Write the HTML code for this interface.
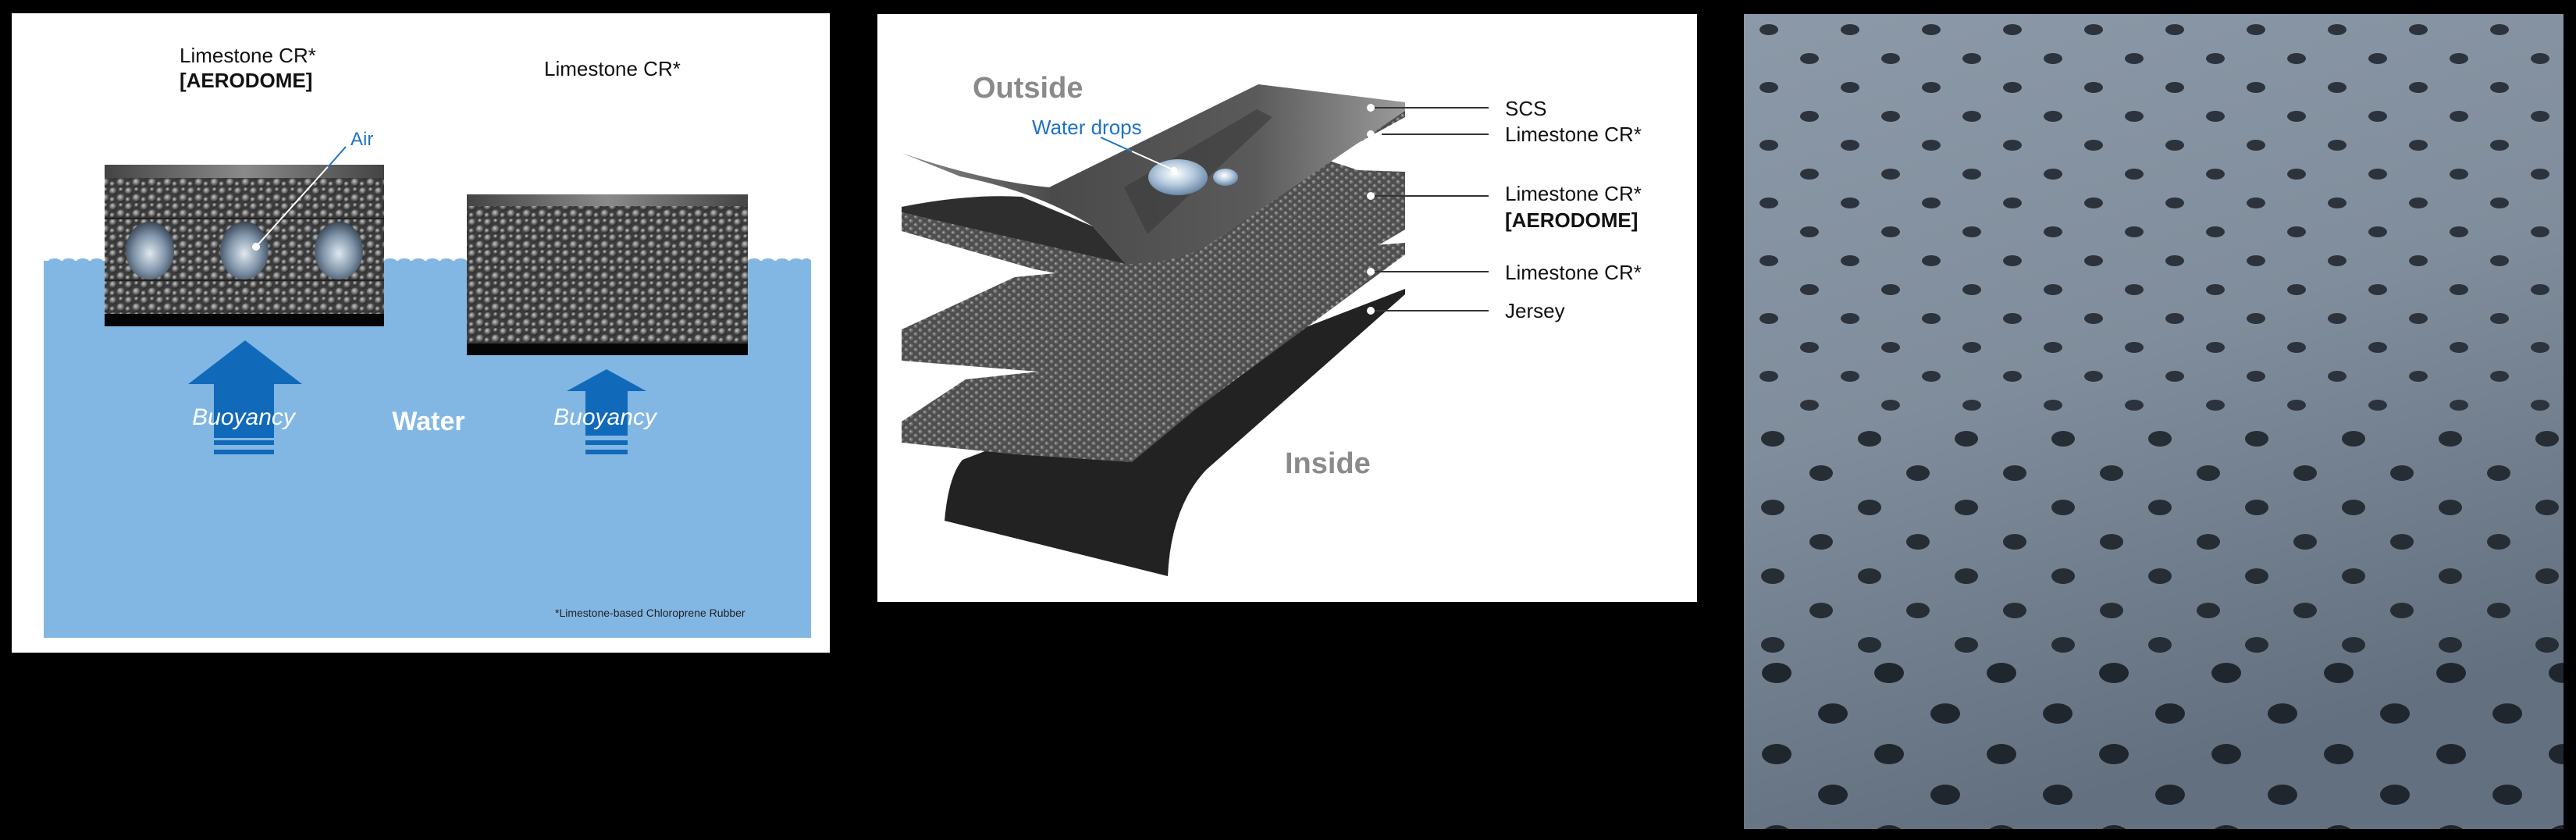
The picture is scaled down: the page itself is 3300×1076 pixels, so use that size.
<!DOCTYPE html>
<html><head><meta charset="utf-8"><style>
html,body{margin:0;padding:0;background:#000;}
body{width:3300px;height:1076px;overflow:hidden;position:relative;font-family:"Liberation Sans",sans-serif;}
svg{position:absolute;left:0;top:0;}
</style></head><body>
<svg width="3300" height="1076" viewBox="0 0 3300 1076" xmlns="http://www.w3.org/2000/svg">
<defs>
  <radialGradient id="bub" cx="40%" cy="35%" r="60%">
    <stop offset="0" stop-color="#c8c8c8"/><stop offset="0.5" stop-color="#777"/><stop offset="1" stop-color="#2a2a2a"/>
  </radialGradient>
  <pattern id="foam" width="20" height="20" patternUnits="userSpaceOnUse">
    <rect width="20" height="20" fill="#3c3c3c"/>
    <circle cx="5" cy="5" r="5" fill="url(#bub)"/>
    <circle cx="15" cy="14" r="5.5" fill="url(#bub)"/>
    <circle cx="15" cy="3" r="3" fill="url(#bub)"/>
    <circle cx="4" cy="16" r="3.5" fill="url(#bub)"/>
  </pattern>
  <pattern id="foam2" width="12" height="10" patternUnits="userSpaceOnUse">
    <rect width="12" height="10" fill="#4e4e4e"/>
    <circle cx="3" cy="3" r="2.6" fill="#727272"/>
    <circle cx="9" cy="8" r="2.6" fill="#6e6e6e"/>
    <circle cx="2.5" cy="2.5" r="1" fill="#b0b0b0"/>
    <circle cx="8.5" cy="7.5" r="1" fill="#b0b0b0"/>
  </pattern>
  <radialGradient id="air" cx="50%" cy="55%" r="55%">
    <stop offset="0" stop-color="#dfe8f0"/><stop offset="0.6" stop-color="#7f93a8"/><stop offset="1" stop-color="#3a4858"/>
  </radialGradient>
  <linearGradient id="strip" x1="0" y1="0" x2="1" y2="0">
    <stop offset="0" stop-color="#444"/><stop offset="0.5" stop-color="#8a8a8a"/><stop offset="1" stop-color="#444"/>
  </linearGradient>
  <linearGradient id="scs" x1="0" y1="0" x2="1" y2="0">
    <stop offset="0" stop-color="#8a8a8a"/><stop offset="0.3" stop-color="#4a4a4a"/><stop offset="0.7" stop-color="#5a5a5a"/><stop offset="1" stop-color="#9a9a9a"/>
  </linearGradient>
  <radialGradient id="drop" cx="45%" cy="40%" r="60%">
    <stop offset="0" stop-color="#ffffff"/><stop offset="0.5" stop-color="#b9cde0"/><stop offset="1" stop-color="#6a88a8"/>
  </radialGradient>
  <linearGradient id="photo" x1="0" y1="0" x2="0.3" y2="1">
    <stop offset="0" stop-color="#8c99a8"/><stop offset="0.5" stop-color="#808d9c"/><stop offset="1" stop-color="#63707f"/>
  </linearGradient>
  <pattern id="holesA" width="104" height="74" patternUnits="userSpaceOnUse" x="2240" y="20">
    <ellipse cx="26" cy="18" rx="12" ry="7" fill="#2c333c"/>
    <ellipse cx="78" cy="55" rx="12" ry="7" fill="#2c333c"/>
  </pattern>
  <pattern id="holesB" width="124" height="88" patternUnits="userSpaceOnUse" x="2240" y="540">
    <ellipse cx="31" cy="22" rx="15" ry="10" fill="#262d35"/>
    <ellipse cx="93" cy="66" rx="15" ry="10" fill="#262d35"/>
  </pattern>
  <pattern id="holesC" width="144" height="104" patternUnits="userSpaceOnUse" x="2240" y="836">
    <ellipse cx="36" cy="26" rx="19" ry="13" fill="#20262d"/>
    <ellipse cx="108" cy="78" rx="19" ry="13" fill="#20262d"/>
  </pattern>
</defs>

<!-- PANEL 1 -->
<rect x="15" y="17" width="1048" height="819" fill="#fff"/>
<rect x="56" y="334" width="983" height="483" fill="#82b7e4"/>
<g fill="#82b7e4">
<ellipse cx="70" cy="335" rx="8" ry="4"/><ellipse cx="88" cy="335" rx="8" ry="4"/><ellipse cx="106" cy="335" rx="8" ry="4"/><ellipse cx="124" cy="335" rx="8" ry="4"/>
<ellipse cx="500" cy="335" rx="8" ry="4"/><ellipse cx="518" cy="335" rx="8" ry="4"/><ellipse cx="536" cy="335" rx="8" ry="4"/><ellipse cx="554" cy="335" rx="8" ry="4"/><ellipse cx="572" cy="335" rx="8" ry="4"/><ellipse cx="590" cy="335" rx="8" ry="4"/>
<ellipse cx="966" cy="335" rx="8" ry="4"/><ellipse cx="984" cy="335" rx="8" ry="4"/><ellipse cx="1002" cy="335" rx="8" ry="4"/><ellipse cx="1020" cy="335" rx="8" ry="4"/><ellipse cx="1033" cy="335" rx="6" ry="4"/>
</g>
<!-- left block -->
<rect x="134" y="211" width="358" height="207" fill="url(#foam)"/>
<rect x="134" y="211" width="358" height="17" fill="url(#strip)"/>
<rect x="134" y="279" width="358" height="2" fill="#222"/>
<rect x="134" y="358" width="358" height="2" fill="#222"/>
<ellipse cx="192" cy="321" rx="31" ry="37" fill="url(#air)"/>
<ellipse cx="313" cy="321" rx="31" ry="37" fill="url(#air)"/>
<ellipse cx="434" cy="321" rx="31" ry="37" fill="url(#air)"/>
<rect x="134" y="402" width="358" height="16" fill="#050505"/>
<!-- right block -->
<rect x="598" y="249" width="360" height="206" fill="url(#foam)"/>
<rect x="598" y="249" width="360" height="15" fill="url(#strip)"/>
<rect x="598" y="440" width="360" height="15" fill="#050505"/>
<!-- Air -->
<line x1="443" y1="188" x2="328" y2="316" stroke="#fff" stroke-width="2"/>
<line x1="443" y1="188" x2="420" y2="214" stroke="#1e73c4" stroke-width="2"/>
<circle cx="328" cy="316" r="5" fill="#fff"/>
<text x="449" y="186" font-size="24" fill="#1e73c4">Air</text>
<text x="230" y="80" font-size="26" fill="#111">Limestone CR*</text>
<text x="230" y="112" font-size="26" font-weight="bold" fill="#111">[AERODOME]</text>
<text x="697" y="97" font-size="26" fill="#111">Limestone CR*</text>
<!-- arrows -->
<polygon points="314,436 387,492 351,492 351,561 274,561 274,492 241,492" fill="#116ab9"/>
<rect x="274" y="564" width="77" height="6" fill="#116ab9"/>
<rect x="274" y="576" width="77" height="6" fill="#116ab9"/>
<polygon points="777,473 828,501 804,501 804,558 750,558 750,501 726,501" fill="#116ab9"/>
<rect x="750" y="564" width="54" height="6" fill="#116ab9"/>
<rect x="750" y="576" width="54" height="6" fill="#116ab9"/>
<text x="312" y="544" font-size="30" font-style="italic" fill="#fff" text-anchor="middle">Buoyancy</text>
<text x="775" y="544" font-size="30" font-style="italic" fill="#fff" text-anchor="middle">Buoyancy</text>
<text x="549" y="551" font-size="34" font-weight="bold" fill="#fff" text-anchor="middle">Water</text>
<text x="711" y="790" font-size="14" fill="#222">*Limestone-based Chloroprene Rubber</text>

<!-- PANEL 2 -->
<rect x="1124" y="18" width="1050" height="753" fill="#fff"/>
<!-- jersey -->
<path d="M1233 589 L1800 370 L1800 377 L1545 602 Q1500 650 1496 738 L1210 667 Q1215 610 1233 589 Z" fill="#222"/>
<!-- lower foam mass -->
<path d="M1155 422 L1300 355 L1560 330 L1800 311 L1800 326 L1532 524 L1450 592 L1300 582 L1155 567 Z" fill="url(#foam2)"/>
<path d="M1155 462 L1330 476 L1237 486 L1155 540 Z" fill="#fff"/>
<!-- upper foam -->
<path d="M1155 272 L1442 336 L1545 316 L1800 140 L1800 294 L1620 400 L1326 345 L1155 296 Z" fill="url(#foam2)"/>
<path d="M1700 205 L1800 150 L1800 220 L1740 218 Z" fill="#fff"/>
<!-- SCS sheet underside -->
<path d="M1155 265 Q1240 248 1309 252 L1400 290 L1442 338 L1155 272 Z" fill="#2e2e2e"/>
<!-- SCS sheet top face -->
<path d="M1155 196 Q1260 232 1344 240 L1612 108 L1800 131 L1800 142 L1545 316 Q1500 338 1442 338 L1400 290 Q1330 246 1230 226 Z" fill="url(#scs)"/>
<path d="M1440 240 L1610 140 L1630 150 L1470 300 Z" fill="#3a3a3a" opacity="0.6"/>
<ellipse cx="1509" cy="227" rx="38" ry="23" fill="url(#drop)"/>
<ellipse cx="1570" cy="227" rx="16" ry="11" fill="url(#drop)"/>
<line x1="1410" y1="176" x2="1504" y2="218" stroke="#fff" stroke-width="2"/>
<line x1="1410" y1="176" x2="1450" y2="194" stroke="#1e73c4" stroke-width="2"/>
<circle cx="1504" cy="218" r="4" fill="#fff"/>
<text x="1322" y="172" font-size="26" fill="#1e73c4">Water drops</text>
<text x="1246" y="125" font-size="38" font-weight="bold" fill="#8a8a8a">Outside</text>
<text x="1646" y="606" font-size="38" font-weight="bold" fill="#8a8a8a">Inside</text>
<!-- leaders -->
<g stroke="#333" stroke-width="2">
<line x1="1756" y1="138" x2="1907" y2="138"/>
<line x1="1770" y1="172" x2="1907" y2="172"/>
<line x1="1756" y1="251" x2="1907" y2="251"/>
<line x1="1756" y1="348" x2="1907" y2="348"/>
<line x1="1756" y1="398" x2="1907" y2="398"/>
</g>
<g fill="#fff">
<circle cx="1756" cy="138" r="5"/><circle cx="1756" cy="172" r="5"/><circle cx="1756" cy="251" r="5"/><circle cx="1756" cy="348" r="5"/><circle cx="1756" cy="398" r="5"/>
</g>
<g font-size="26" fill="#111">
<text x="1928" y="148">SCS</text>
<text x="1928" y="181">Limestone CR*</text>
<text x="1928" y="257">Limestone CR*</text>
<text x="1928" y="291" font-weight="bold">[AERODOME]</text>
<text x="1928" y="358">Limestone CR*</text>
<text x="1928" y="407">Jersey</text>
</g>

<!-- PANEL 3 photo -->
<rect x="2234" y="18" width="1050" height="1044" fill="url(#photo)"/>
<rect x="2234" y="18" width="1050" height="522" fill="url(#holesA)"/>
<rect x="2234" y="540" width="1050" height="296" fill="url(#holesB)"/>
<rect x="2234" y="836" width="1050" height="226" fill="url(#holesC)"/>
</svg>
</body></html>
